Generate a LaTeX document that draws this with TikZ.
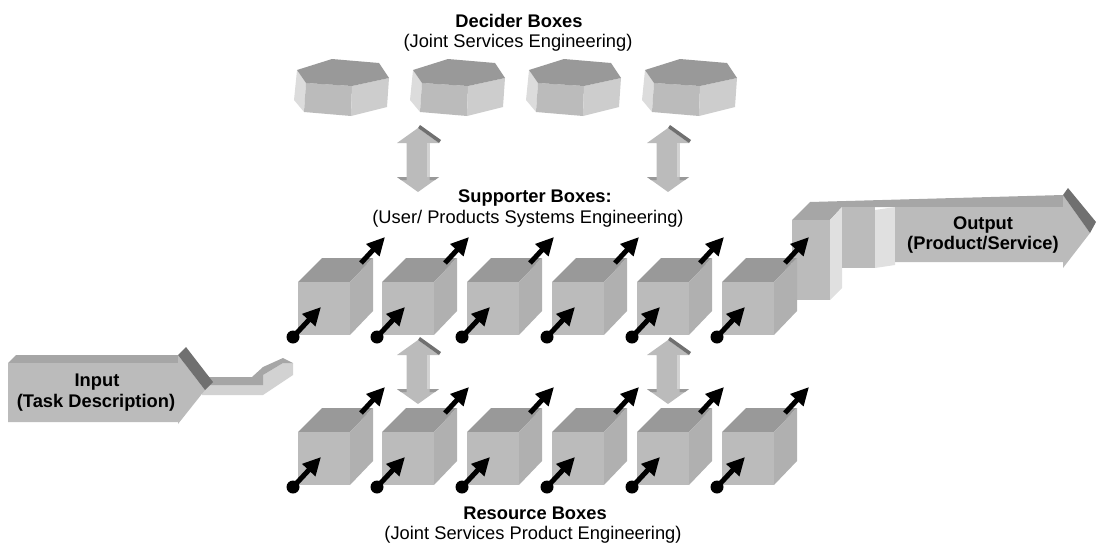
\documentclass[tikz,border=0pt]{standalone}
\usepackage{fontspec}
\setmainfont{Liberation Sans}
\usetikzlibrary{arrows.meta}

\definecolor{topgray}{HTML}{999999}
\definecolor{frontgray}{HTML}{BBBBBB}
\definecolor{sidegray}{HTML}{B0B0B0}
\definecolor{hexleft}{HTML}{DCDCDC}
\definecolor{hexright}{HTML}{CDCDCD}
\definecolor{bandgray}{HTML}{A6A6A6}
\definecolor{lightface}{HTML}{D2D2D2}
\definecolor{palegray}{HTML}{E0E0E0}
\definecolor{bevel}{HTML}{707070}

\tikzset{
  label/.style={font=\fontsize{18.3}{21}\selectfont, align=center, inner sep=0pt},
  title/.style={label, font=\fontsize{18.3}{21}\selectfont\bfseries},
  flow/.style={line width=5pt, -{Triangle[length=18pt,width=17pt]}},
  % hexagonal prism, origin at the left corner of the top face
  decider/.pic={
    \fill[hexleft]  (0,0) -- (9,13) -- (7,42) -- (-3,30) -- cycle;
    \fill[frontgray] (9,13) -- (55,16) -- (54,46) -- (7,42) -- cycle;
    \fill[hexright] (55,16) -- (92,8) -- (90,37) -- (54,46) -- cycle;
    \fill[topgray]  (0,0) -- (35,-11) -- (82,-7) -- (92,8) -- (55,16) -- (9,13) -- cycle;
  },
  % cube, origin at the front top-left corner
  cubebox/.pic={
    \fill[topgray] (0,0) -- (24,-24) -- (75,-24) -- (52,0) -- cycle;
    \fill[frontgray] (0,0) rectangle (52,53);
    \fill[sidegray] (52,0) -- (75,-24) -- (75,29) -- (52,53) -- cycle;
    \coordinate (-in) at (-5,55);
    \coordinate (-inend) at (23,25);
    \coordinate (-out) at (63,-19);
    \coordinate (-outend) at (87,-45);
  },
  % two-headed block arrow, origin at the upper tip
  updown/.pic={
    \fill[frontgray] (0,0) -- (21,15) -- (11.5,15) -- (11.5,49) -- (21,49) -- (0,64)
      -- (-21,49) -- (-11.5,49) -- (-11.5,15) -- (-21,15) -- cycle;
    \fill[lightface] (8.5,15) rectangle (11.5,49);
    \fill[topgray] (-21,49) -- (-11.5,49) -- (-11.5,52) -- (-17,52) -- cycle;
    \fill[topgray] (21,49) -- (11.5,49) -- (11.5,52) -- (17,52) -- cycle;
    \fill[bevel] (0,0) -- (21,15) -- (23,12) -- (2,-3) -- cycle;
  }
}

\begin{document}
\begin{tikzpicture}[x=1pt,y=-1pt]
\useasboundingbox (0,0) rectangle (1096,549);

% headings
\node[title] (decT) at (519,21) {Decider Boxes};
\node[label] (decS) at (518,43) {(Joint Services Engineering)};
\node[title] (supT) at (535,198) {Supporter Boxes:};
\node[label] (supS) at (528,219) {(User/ Products Systems Engineering)};
\node[title] (resT) at (535,513) {Resource Boxes};
\node[label] (resS) at (533,535) {(Joint Services Product Engineering)};

% decider prisms
\foreach \i/\x in {1/297,2/413,3/529,4/645}
  \pic (dec\i) at (\x,70) {decider};

% links between the tiers
\pic (linkA) at (418,128) {updown};
\pic (linkB) at (668,128) {updown};
\pic (linkC) at (418,340) {updown};
\pic (linkD) at (668,340) {updown};

% feed pipe from the input arrow
\fill[lightface] (202,385) -- (263,385) -- (263,375) -- (283,363) -- (293,363)
  -- (293,375) -- (263,395) -- (202,395) -- cycle;
\fill[bandgray] (202,377) -- (252,377) -- (263,367) -- (283,358) -- (293,363)
  -- (283,363) -- (263,375) -- (263,385) -- (202,385) -- cycle;

% input arrow
\fill[bandgray] (8,363) -- (16,355) -- (178,355) -- (178,363) -- cycle;
\fill[frontgray] (8,363) -- (178,363) -- (178,355) -- (205,390) -- (178,424) -- (178,422) -- (8,422) -- cycle;
\fill[bevel] (178,355) -- (186,347) -- (213,382) -- (205,390) -- cycle;
\node[title] (inT) at (97,382) {Input};
\node[title] (inS) at (96,403) {(Task Description)};

% output arrow
\fill[bandgray] (792,220) -- (810,202) -- (1063,195) -- (1063,207) -- (842,207) -- (830,220) -- cycle;
\fill[frontgray] (792,220) rectangle (830,300);
\fill[palegray] (830,220) -- (842,207) -- (842,288) -- (830,300) -- cycle;
\fill[frontgray] (842,207) rectangle (875,268);
\fill[palegray] (875,210) -- (895,207) -- (895,265) -- (875,268) -- cycle;
\fill[frontgray] (895,207) -- (1063,207) -- (1063,195) -- (1090,233) -- (1063,268) -- (1063,262) -- (895,262) -- cycle;
\fill[bevel] (1063,195) -- (1068,188) -- (1096,222) -- (1090,233) -- cycle;
\node[title] (outT) at (983,225) {Output};
\node[title] (outS) at (983,245) {(Product/Service)};

% supporter and resource cubes
\foreach \r/\y in {s/282,r/432}
  \foreach \i/\x in {1/298,2/382,3/467,4/552,5/637,6/722}
    \pic (\r\i) at (\x,\y) {cubebox};

% flow arrows through each cube
\foreach \r in {s,r}
  \foreach \i in {1,...,6}{
    \fill (\r\i-in) circle (6.5);
    \draw[flow] (\r\i-in) -- (\r\i-inend);
    \draw[flow] (\r\i-out) -- (\r\i-outend);
  }
\end{tikzpicture}
\end{document}
